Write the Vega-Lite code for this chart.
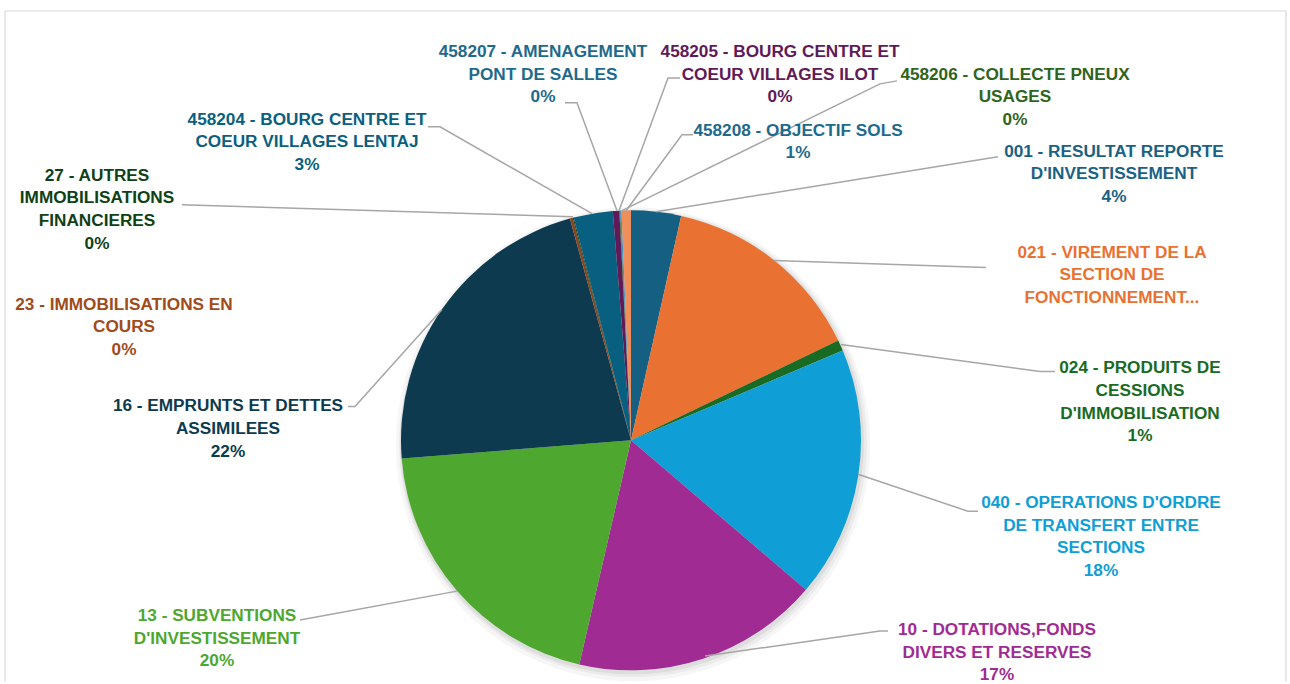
{
  "$schema": "https://vega.github.io/schema/vega-lite/v6.json",
  "width": 1290,
  "height": 684,
  "padding": 0,
  "autosize": {"type": "fit", "contains": "padding"},
  "background": "#ffffff",
  "config": {"view": {"stroke": null}},
  "datasets": {
    "slices": [
      {"cat": "001", "ordre": 1, "value": 3.5, "lx": 210.0, "ly": 125.65, "label": ["001 - RESULTAT REPORTE", "D'INVESTISSEMENT", "4%"]},
      {"cat": "021", "ordre": 2, "value": 14.36, "lx": 209.13, "ly": 81.74, "label": ["021 - VIREMENT DE LA", "SECTION DE", "FONCTIONNEMENT..."]},
      {"cat": "024", "ordre": 3, "value": 0.75, "lx": 221.3, "ly": 31.3, "label": ["024 - PRODUITS DE", "CESSIONS", "D'IMMOBILISATION", "1%"]},
      {"cat": "040", "ordre": 4, "value": 17.64, "lx": 204.35, "ly": -27.39, "label": ["040 - OPERATIONS D'ORDRE", "DE TRANSFERT ENTRE", "SECTIONS", "18%"]},
      {"cat": "10", "ordre": 5, "value": 17.36, "lx": 159.13, "ly": -82.61, "label": ["10 - DOTATIONS,FONDS", "DIVERS ET RESERVES", "17%"]},
      {"cat": "13", "ordre": 6, "value": 20.14, "lx": -180.0, "ly": -76.52, "label": ["13 - SUBVENTIONS", "D'INVESTISSEMENT", "20%"]},
      {"cat": "16", "ordre": 7, "value": 21.97, "lx": -175.22, "ly": 14.78, "label": ["16 - EMPRUNTS ET DETTES", "ASSIMILEES", "22%"]},
      {"cat": "23", "ordre": 8, "value": 0.2, "lx": -220.43, "ly": 59.13, "label": ["23 - IMMOBILISATIONS EN", "COURS", "0%"]},
      {"cat": "27", "ordre": 9, "value": 0.07, "lx": -232.17, "ly": 115.22, "label": ["27 - AUTRES", "IMMOBILISATIONS", "FINANCIERES", "0%"]},
      {"cat": "458204", "ordre": 10, "value": 2.75, "lx": -140.87, "ly": 139.57, "label": ["458204 - BOURG CENTRE ET", "COEUR VILLAGES LENTAJ", "3%"]},
      {"cat": "458205", "ordre": 11, "value": 0.45, "lx": 64.78, "ly": 169.13, "label": ["458205 - BOURG CENTRE ET", "COEUR VILLAGES ILOT", "0%"]},
      {"cat": "458206", "ordre": 12, "value": 0.05, "lx": 166.96, "ly": 159.13, "label": ["458206 - COLLECTE PNEUX", "USAGES", "0%"]},
      {"cat": "458207", "ordre": 13, "value": 0.1, "lx": -38.26, "ly": 169.13, "label": ["458207 - AMENAGEMENT", "PONT DE SALLES", "0%"]},
      {"cat": "458208", "ordre": 14, "value": 0.66, "lx": 72.61, "ly": 134.78, "label": ["458208 - OBJECTIF SOLS", "1%"]}
    ],
    "leaders": [
      {"cat": "458207", "seq": 1, "u": -28.7, "v": 146.96},
      {"cat": "458207", "seq": 2, "u": -23.48, "v": 146.96},
      {"cat": "458207", "seq": 3, "u": -6.09, "v": 100.0},
      {"cat": "458205", "seq": 1, "u": 21.3, "v": 157.83},
      {"cat": "458205", "seq": 2, "u": 16.09, "v": 157.83},
      {"cat": "458205", "seq": 3, "u": -5.22, "v": 100.0},
      {"cat": "458206", "seq": 1, "u": 115.65, "v": 156.52},
      {"cat": "458206", "seq": 2, "u": 108.26, "v": 155.22},
      {"cat": "458206", "seq": 3, "u": -3.91, "v": 100.0},
      {"cat": "458208", "seq": 1, "u": 26.96, "v": 133.04},
      {"cat": "458208", "seq": 2, "u": 22.17, "v": 133.04},
      {"cat": "458208", "seq": 3, "u": -2.17, "v": 100.0},
      {"cat": "001", "seq": 1, "u": 159.57, "v": 123.48},
      {"cat": "001", "seq": 2, "u": 10.87, "v": 99.57},
      {"cat": "021", "seq": 1, "u": 154.35, "v": 75.22},
      {"cat": "021", "seq": 2, "u": 62.17, "v": 78.26},
      {"cat": "024", "seq": 1, "u": 184.35, "v": 30.0},
      {"cat": "024", "seq": 2, "u": 177.83, "v": 30.0},
      {"cat": "024", "seq": 3, "u": 91.3, "v": 41.74},
      {"cat": "040", "seq": 1, "u": 150.87, "v": -30.87},
      {"cat": "040", "seq": 2, "u": 146.52, "v": -30.87},
      {"cat": "040", "seq": 3, "u": 98.7, "v": -14.78},
      {"cat": "10", "seq": 1, "u": 111.74, "v": -83.04},
      {"cat": "10", "seq": 2, "u": 108.26, "v": -83.04},
      {"cat": "10", "seq": 3, "u": 32.17, "v": -93.91},
      {"cat": "13", "seq": 1, "u": -143.91, "v": -78.26},
      {"cat": "13", "seq": 2, "u": -75.65, "v": -65.65},
      {"cat": "16", "seq": 1, "u": -123.04, "v": 14.78},
      {"cat": "16", "seq": 2, "u": -120.0, "v": 14.78},
      {"cat": "16", "seq": 3, "u": -82.17, "v": 56.96},
      {"cat": "27", "seq": 1, "u": -195.22, "v": 102.61},
      {"cat": "27", "seq": 2, "u": -25.22, "v": 97.39},
      {"cat": "458204", "seq": 1, "u": -88.26, "v": 136.52},
      {"cat": "458204", "seq": 2, "u": -83.04, "v": 136.52},
      {"cat": "458204", "seq": 3, "u": -16.96, "v": 98.7}
    ],
    "cadre": [
      {"seq": 1, "u": -272.17, "v": -105.0},
      {"seq": 2, "u": -272.17, "v": 186.96},
      {"seq": 3, "u": 284.78, "v": 186.96},
      {"seq": 4, "u": 284.78, "v": -105.0}
    ]
  },
  "resolve": {"scale": {"color": "independent"}},
  "layer": [
    {
      "data": {"name": "cadre"},
      "mark": {"type": "line", "stroke": "#D9D9D9", "strokeWidth": 1.2},
      "encoding": {
        "x": {"field": "u", "type": "quantitative", "scale": {"domain": [-274.348, 286.522], "nice": false, "zero": false}, "axis": null},
        "y": {"field": "v", "type": "quantitative", "scale": {"domain": [-105.652, 191.739], "nice": false, "zero": false}, "axis": null},
        "order": {"field": "seq", "type": "quantitative"}
      }
    },
    {
      "data": {"values": [{"name": "ombre"}]},
      "mark": {"type": "arc", "outerRadius": 237, "fill": "#000000", "opacity": 0.035, "xOffset": 2, "yOffset": 4},
      "encoding": {"x": {"datum": 0, "type": "quantitative"}, "y": {"datum": 0, "type": "quantitative"}}
    },
    {
      "data": {"values": [{"name": "ombre"}]},
      "mark": {"type": "arc", "outerRadius": 234, "fill": "#000000", "opacity": 0.045, "xOffset": 2, "yOffset": 3},
      "encoding": {"x": {"datum": 0, "type": "quantitative"}, "y": {"datum": 0, "type": "quantitative"}}
    },
    {
      "data": {"values": [{"name": "ombre"}]},
      "mark": {"type": "arc", "outerRadius": 232, "fill": "#000000", "opacity": 0.06, "xOffset": 1, "yOffset": 2},
      "encoding": {"x": {"datum": 0, "type": "quantitative"}, "y": {"datum": 0, "type": "quantitative"}}
    },
    {
      "data": {"name": "slices"},
      "mark": {"type": "arc", "outerRadius": 230},
      "encoding": {
        "x": {"datum": 0, "type": "quantitative"},
        "y": {"datum": 0, "type": "quantitative"},
        "theta": {"field": "value", "type": "quantitative", "stack": true},
        "order": {"field": "ordre", "type": "quantitative", "sort": "ascending"},
        "color": {
          "field": "cat",
          "type": "nominal",
          "legend": null,
          "scale": {
            "domain": ["001", "021", "024", "040", "10", "13", "16", "23", "27", "458204", "458205", "458206", "458207", "458208"],
            "range": ["#156082", "#E97132", "#196B24", "#0F9ED5", "#A02B93", "#4EA72E", "#0D3A4E", "#8C441E", "#0F4016", "#095F80", "#601A58", "#2F641C", "#3A93C4", "#ED8E5B"]
          }
        }
      }
    },
    {
      "data": {"name": "leaders"},
      "mark": {"type": "line", "stroke": "#A6A6A6", "strokeWidth": 1.5},
      "encoding": {
        "x": {"field": "u", "type": "quantitative"},
        "y": {"field": "v", "type": "quantitative"},
        "detail": {"field": "cat"},
        "order": {"field": "seq", "type": "quantitative"}
      }
    },
    {
      "data": {"name": "slices"},
      "mark": {"type": "text", "font": "Liberation Sans", "fontWeight": "bold", "fontSize": 17.2, "lineHeight": 22.6, "align": "center", "baseline": "middle"},
      "encoding": {
        "x": {"field": "lx", "type": "quantitative"},
        "y": {"field": "ly", "type": "quantitative"},
        "text": {"field": "label"},
        "color": {
          "field": "cat",
          "type": "nominal",
          "legend": null,
          "scale": {
            "domain": ["001", "021", "024", "040", "10", "13", "16", "23", "27", "458204", "458205", "458206", "458207", "458208"],
            "range": ["#1A6284", "#E97132", "#196B24", "#0F9ED5", "#A02B93", "#4EA72E", "#0D3A4E", "#A14A1A", "#0F4016", "#0B5F80", "#601A58", "#2F641C", "#1E6A8C", "#1E6A8C"]
          }
        }
      }
    }
  ]
}
